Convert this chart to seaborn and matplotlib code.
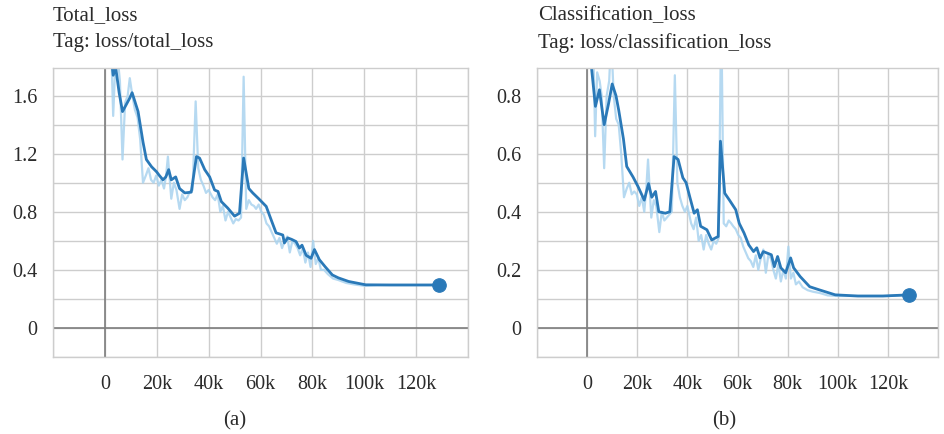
import matplotlib
matplotlib.use("Agg")
import matplotlib.pyplot as plt
import seaborn as sns
import pandas as pd

# ---------------- data (steps in thousands) ----------------
raw_steps = [2.5, 3.2, 4.0, 5.0, 5.8, 6.8, 7.8, 8.8, 9.6, 10.6,
             11.6, 12.6, 13.6, 14.7, 15.8, 16.8, 17.8, 18.8, 19.8, 20.8,
             21.8, 22.8, 23.6, 24.3, 25.6, 26.6, 27.6, 28.8, 29.8, 30.8,
             31.8, 32.8, 33.8, 35.0, 36.0, 37.0, 38.0, 39.0, 40.0, 41.5,
             42.5, 43.5, 44.5, 45.5, 46.5, 47.5, 48.5, 49.5, 50.5, 51.5,
             52.5, 53.5, 54.5, 55.5, 56.5, 57.5, 58.3, 59.3, 60.3, 61.3,
             62.3, 63.3, 64.3, 65.3, 66.3, 67.3, 68.3, 69.3, 70.3, 71.3,
             72.3, 73.3, 74.3, 75.3, 76.3, 77.3, 78.3, 79.3, 80.3, 81.3,
             82.3, 83.3, 84.5, 86, 88, 90, 93, 96, 100, 105,
             110, 115, 120, 125, 128.5]

total_raw = [1.90, 1.46, 1.80, 1.85, 1.70, 1.16, 1.55, 1.60, 1.72, 1.60,
             1.50, 1.45, 1.30, 1.00, 1.05, 1.10, 1.02, 1.00, 1.05, 0.98,
             1.02, 0.96, 1.05, 1.18, 0.89, 1.00, 0.95, 0.82, 0.92, 0.88,
             0.90, 0.94, 0.95, 1.56, 1.10, 1.02, 0.98, 0.93, 0.95, 0.90,
             0.88, 0.92, 0.80, 0.84, 0.74, 0.80, 0.76, 0.72, 0.75, 0.74,
             0.76, 1.73, 0.82, 0.88, 0.85, 0.84, 0.82, 0.85, 0.80, 0.78,
             0.72, 0.70, 0.66, 0.62, 0.58, 0.62, 0.55, 0.60, 0.63, 0.52,
             0.60, 0.58, 0.55, 0.50, 0.55, 0.45, 0.52, 0.42, 0.60, 0.44,
             0.48, 0.40, 0.40, 0.37, 0.34, 0.33, 0.31, 0.30, 0.29, 0.295,
             0.295, 0.295, 0.295, 0.295, 0.296]

cls_raw = [0.95, 0.66, 0.88, 0.85, 0.80, 0.55, 0.80, 0.85, 1.00, 0.80,
           0.72, 0.70, 0.60, 0.45, 0.48, 0.50, 0.46, 0.47, 0.46, 0.42,
           0.45, 0.40, 0.48, 0.58, 0.38, 0.44, 0.42, 0.33, 0.40, 0.37,
           0.38, 0.39, 0.40, 0.87, 0.50, 0.45, 0.42, 0.40, 0.42, 0.36,
           0.34, 0.38, 0.30, 0.32, 0.27, 0.32, 0.29, 0.27, 0.30, 0.29,
           0.31, 1.10, 0.36, 0.35, 0.37, 0.36, 0.35, 0.34, 0.32, 0.31,
           0.28, 0.26, 0.24, 0.23, 0.21, 0.25, 0.20, 0.24, 0.27, 0.19,
           0.25, 0.24, 0.20, 0.17, 0.22, 0.16, 0.20, 0.17, 0.28, 0.17,
           0.19, 0.15, 0.16, 0.14, 0.13, 0.125, 0.12, 0.112, 0.11, 0.11,
           0.11, 0.11, 0.11, 0.112, 0.114]

total_steps = [2.5, 3.2, 4.2, 5.5, 6.8, 8.0, 9.5, 10.5, 12.8, 14.7,
               16.0, 18.0, 19.9, 21.0, 22.4, 23.5, 24.6, 25.6, 27.3, 28.8,
               30.8, 33.3, 35.3, 36.5, 38.5, 40.4, 42.3, 43.6, 44.9, 47.4,
               50.0, 51.9, 53.5, 55.5, 57.0, 59.3, 62.2, 64.0, 66.0, 68.6,
               69.2, 70.5, 72.0, 73.7, 75.0, 76.0, 77.6, 79.5, 80.8, 82.7,
               85.0, 87.7, 90.0, 94.0, 100.6, 110.0, 120.0, 128.8]
total_smooth = [1.85, 1.74, 1.79, 1.62, 1.49, 1.53, 1.58, 1.62, 1.49, 1.28,
                1.16, 1.11, 1.076, 1.05, 1.02, 1.04, 1.09, 1.02, 1.04, 0.96,
                0.93, 0.935, 1.18, 1.17, 1.09, 1.04, 0.95, 0.94, 0.87, 0.825,
                0.77, 0.79, 1.17, 0.96, 0.93, 0.89, 0.837, 0.75, 0.655, 0.64,
                0.585, 0.62, 0.61, 0.595, 0.55, 0.57, 0.50, 0.48, 0.54, 0.47,
                0.42, 0.365, 0.345, 0.32, 0.297, 0.296, 0.296, 0.296]

cls_steps = [1.0, 1.7, 3.3, 4.9, 6.8, 8.5, 10.0, 11.5, 12.6, 14.5,
             15.8, 18.3, 20.3, 22.8, 24.5, 25.8, 27.3, 28.6, 31.2, 33.0,
             34.7, 36.3, 38.2, 39.5, 41.0, 42.7, 44.0, 45.3, 47.8, 49.7,
             52.3, 53.2, 54.9, 56.8, 59.3, 60.7, 62.6, 64.5, 66.4, 67.7,
             69.0, 70.3, 73.5, 74.7, 76.0, 77.3, 79.2, 81.2, 82.4, 85.0,
             88.8, 92.7, 99.0, 108.0, 118.0, 128.6]
cls_smooth = [0.95, 0.90, 0.763, 0.82, 0.70, 0.77, 0.84, 0.80, 0.75, 0.65,
              0.556, 0.52, 0.487, 0.44, 0.497, 0.45, 0.47, 0.40, 0.395, 0.40,
              0.59, 0.58, 0.517, 0.50, 0.45, 0.395, 0.407, 0.35, 0.338, 0.303,
              0.315, 0.643, 0.464, 0.44, 0.407, 0.36, 0.327, 0.286, 0.263, 0.276,
              0.241, 0.263, 0.252, 0.211, 0.246, 0.207, 0.19, 0.241, 0.207, 0.177,
              0.142, 0.131, 0.114, 0.11, 0.11, 0.114]

x_tick_vals = [-20, 0, 20, 40, 60, 80, 100, 120, 140]
x_tick_labels = ["", "0", "20k", "40k", "60k", "80k", "100k", "120k", ""]

total_yticks = [0, 0.4, 0.8, 1.2, 1.6]
total_yticklabels = ["0", "0.4", "0.8", "1.2", "1.6"]
total_ygrid = [-0.2, 0.2, 0.6, 1.0, 1.4]
cls_yticks = [0, 0.2, 0.4, 0.6, 0.8]
cls_yticklabels = ["0", "0.2", "0.4", "0.6", "0.8"]
cls_ygrid = [-0.1, 0.1, 0.3, 0.5, 0.7]

titles = ["Total_loss", "Classification_loss"]
tags = ["Tag: loss/total_loss", "Tag: loss/classification_loss"]
captions = ["(a)", "(b)"]

# ---------------- style ----------------
sns.set_theme(style="white")
plt.rcParams['font.family'] = ['Liberation Serif', 'DejaVu Serif']
TXT = "#2b2b2b"
DARK = "#2a79b8"
LIGHT = "#a9d3ef"
GRID = "#cdcdcd"
ZERO = "#7d7d7d"

W, H = 944, 434
fig = plt.figure(figsize=(W / 100, H / 100), dpi=100)
ax1 = fig.add_axes([53 / W, 1 - 357 / H, 415 / W, 289 / H])
ax2 = fig.add_axes([537 / W, 1 - 357 / H, 401 / W, 289 / H])

df_raw = pd.DataFrame({"step": [s * 1000 for s in raw_steps],
                       "total": total_raw, "cls": cls_raw})
df_tot = pd.DataFrame({"step": [s * 1000 for s in total_steps], "val": total_smooth})
df_cls = pd.DataFrame({"step": [s * 1000 for s in cls_steps], "val": cls_smooth})

panels = [
    (ax1, "total", df_tot, (-20000, 139600), (-0.2, 1.79),
     total_yticks, total_yticklabels, total_ygrid),
    (ax2, "cls", df_cls, (-20000, 134200), (-0.1, 0.895),
     cls_yticks, cls_yticklabels, cls_ygrid),
]

for ax, rawcol, dfs, xl, yl, yt, ytl, yg in panels:
    ax.set_facecolor("white")
    sns.lineplot(data=df_raw, x="step", y=rawcol, ax=ax, color=LIGHT,
                 linewidth=1.6, alpha=0.85, sort=False, estimator=None)
    sns.lineplot(data=dfs, x="step", y="val", ax=ax, color=DARK,
                 linewidth=2.0, sort=False, estimator=None)
    sns.scatterplot(x=[dfs["step"].iloc[-1]], y=[dfs["val"].iloc[-1]], ax=ax,
                    color=DARK, s=95, edgecolor=DARK, zorder=6, clip_on=False)
    ax.axhline(0, color=ZERO, lw=1.2, zorder=1)
    ax.axvline(0, color=ZERO, lw=1.2, zorder=1)
    ax.set_xlim(*xl)
    ax.set_ylim(*yl)
    ax.set_xticks([v * 1000 for v in x_tick_vals])
    ax.set_xticklabels(x_tick_labels)
    ax.set_yticks(yt)
    ax.set_yticklabels(ytl)
    ax.set_yticks(yg, minor=True)
    ax.grid(True, which="both", color=GRID, lw=1.0, zorder=0)
    ax.set_axisbelow(True)
    ax.tick_params(axis="both", which="both", length=0, labelsize=14.5,
                   labelcolor=TXT)
    ax.tick_params(axis="x", pad=13)
    ax.tick_params(axis="y", pad=11)
    ax.set_xlabel("")
    ax.set_ylabel("")
    for sp in ax.spines.values():
        sp.set_color(GRID)
        sp.set_linewidth(1.0)

fig.text(53 / W, 1 - 16 / H, titles[0], fontsize=15, color=TXT, va="center", ha="left")
fig.text(53 / W, 1 - 43 / H, tags[0], fontsize=15, color=TXT, va="center", ha="left")
fig.text(538 / W, 1 - 16 / H, titles[1], fontsize=15, color=TXT, va="center", ha="left")
fig.text(538 / W, 1 - 43 / H, tags[1], fontsize=15, color=TXT, va="center", ha="left")
fig.text(235 / W, 1 - 421 / H, captions[0], fontsize=15, color=TXT, va="center", ha="center")
fig.text(724 / W, 1 - 421 / H, captions[1], fontsize=15, color=TXT, va="center", ha="center")

fig.savefig("out.png", dpi=100, facecolor="white")
